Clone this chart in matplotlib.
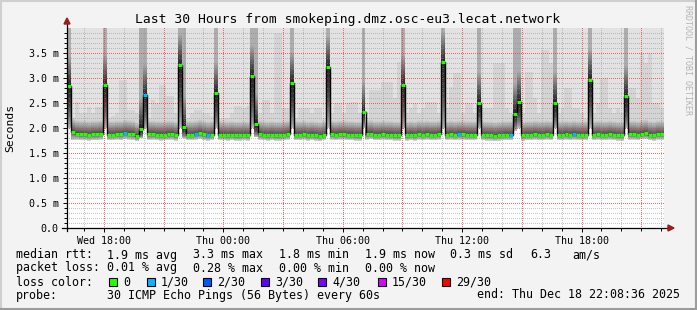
import numpy as np
import matplotlib
matplotlib.use("Agg")
import matplotlib.pyplot as plt
from matplotlib.patches import Rectangle, Polygon

# 12-minute steps over the last 30 hours, values in ms
median_ms = [
    2.84, 1.92, 1.89, 1.88, 1.88, 1.87, 1.88, 1.88, 1.89, 2.86,
    1.87, 1.87, 1.88, 1.88, 1.90, 1.89, 1.88, 1.84, 1.98, 2.66,
    1.88, 1.88, 1.87, 1.87, 1.87, 1.88, 1.88, 1.86, 3.26, 2.02,
    1.87, 1.87, 1.88, 1.90, 1.88, 1.86, 1.87, 2.70, 1.87, 1.87,
    1.86, 1.87, 1.86, 1.86, 1.87, 1.86, 3.04, 2.08, 1.88, 1.87,
    1.86, 1.87, 1.86, 1.86, 1.87, 1.88, 2.90, 1.87, 1.87, 1.88,
    1.86, 1.87, 1.86, 1.85, 1.87, 3.22, 1.88, 1.87, 1.88, 1.88,
    1.87, 1.87, 1.86, 1.86, 2.32, 1.88, 1.89, 1.87, 1.87, 1.88,
    1.87, 1.87, 1.86, 1.86, 2.86, 1.86, 1.87, 1.86, 1.88, 1.87,
    1.88, 1.87, 1.87, 1.88, 3.32, 1.87, 1.88, 1.87, 1.88, 1.88,
    1.87, 1.87, 1.87, 2.50, 1.87, 1.86, 1.86, 1.85, 1.86, 1.87,
    1.87, 1.87, 2.28, 2.52, 1.86, 1.87, 1.87, 1.88, 1.87, 1.87,
    1.88, 1.87, 2.50, 1.87, 1.87, 1.88, 1.87, 1.88, 1.87, 1.87,
    1.87, 2.96, 1.87, 1.88, 1.87, 1.87, 1.88, 1.87, 1.86, 1.86,
    2.64, 1.88, 1.88, 1.87, 1.89, 1.90, 1.87, 1.86, 1.88, 1.88,
]

# lowest ping of each step (bottom of the smoke)
smoke_lo = [
    2.00, 1.76, 1.77, 1.76, 1.76, 1.75, 1.76, 1.76, 1.77, 2.00,
    1.76, 1.76, 1.77, 1.76, 1.78, 1.77, 1.76, 1.74, 1.80, 2.00,
    1.76, 1.77, 1.76, 1.75, 1.76, 1.76, 1.77, 1.75, 2.00, 1.80,
    1.76, 1.76, 1.77, 1.78, 1.76, 1.75, 1.76, 2.00, 1.76, 1.76,
    1.75, 1.76, 1.75, 1.75, 1.76, 1.75, 2.00, 1.82, 1.77, 1.76,
    1.75, 1.76, 1.75, 1.75, 1.76, 1.77, 2.00, 1.76, 1.76, 1.77,
    1.75, 1.76, 1.75, 1.74, 1.76, 2.00, 1.77, 1.76, 1.77, 1.77,
    1.76, 1.76, 1.75, 1.75, 2.00, 1.77, 1.78, 1.76, 1.76, 1.77,
    1.76, 1.76, 1.75, 1.75, 2.00, 1.75, 1.76, 1.75, 1.77, 1.76,
    1.77, 1.76, 1.76, 1.77, 2.00, 1.76, 1.77, 1.76, 1.77, 1.77,
    1.76, 1.76, 1.76, 2.00, 1.76, 1.75, 1.75, 1.74, 1.75, 1.76,
    1.76, 1.76, 1.95, 2.00, 1.75, 1.76, 1.76, 1.77, 1.76, 1.76,
    1.77, 1.76, 2.00, 1.76, 1.76, 1.77, 1.76, 1.77, 1.76, 1.76,
    1.76, 2.00, 1.76, 1.77, 1.76, 1.76, 1.77, 1.76, 1.75, 1.75,
    2.00, 1.77, 1.77, 1.76, 1.78, 1.78, 1.76, 1.75, 1.77, 1.77,
]

# top of the second-outermost smoke band (the pale columns)
smoke_hi = [
    4.0, 2.20, 2.52, 2.30, 2.30, 2.42, 2.30, 2.42, 2.42, 4.0,
    2.20, 2.25, 2.30, 2.96, 2.96, 2.36, 2.36, 2.30, 4.0, 4.0,
    2.20, 2.56, 2.50, 2.86, 2.86, 2.64, 2.64, 2.30, 4.0, 4.0,
    2.20, 2.30, 2.36, 2.36, 2.30, 2.30, 2.25, 4.0, 2.20, 2.20,
    2.20, 2.30, 2.44, 2.44, 2.40, 2.44, 4.0, 4.0, 2.30, 2.56,
    2.56, 2.30, 3.90, 3.90, 2.40, 2.40, 4.0, 2.20, 2.40, 2.40,
    2.40, 2.30, 2.40, 2.40, 2.20, 4.0, 2.30, 2.50, 2.50, 2.30,
    2.50, 2.52, 2.52, 2.30, 4.0, 2.20, 2.76, 2.76, 2.76, 2.92,
    2.92, 2.92, 2.60, 3.32, 4.0, 2.30, 2.40, 2.50, 2.30, 2.40,
    2.52, 2.52, 2.52, 2.30, 4.0, 2.40, 2.82, 3.10, 3.10, 2.30,
    2.50, 2.50, 2.30, 4.0, 2.40, 2.40, 2.40, 3.30, 3.30, 3.30,
    2.40, 2.30, 4.0, 4.0, 2.30, 3.12, 3.12, 2.60, 2.30, 3.56,
    3.56, 3.30, 4.0, 2.30, 2.40, 2.80, 2.80, 2.40, 2.40, 2.30,
    2.20, 4.0, 2.30, 2.50, 3.00, 3.00, 2.40, 2.30, 2.40, 2.30,
    4.0, 2.80, 2.80, 2.60, 3.50, 3.30, 3.50, 2.50, 2.50, 2.40,
]

# lost pings per step (out of 30)
loss_steps = [14, 19, 32, 35, 98, 111, 127]

loss_labels = ["0", "1/30", "2/30", "3/30", "4/30", "15/30", "29/30"]
loss_colors = ["#26ff00", "#00b8ff", "#0059ff", "#5e00ff", "#7e00ff", "#dd00ff", "#ff0000"]

x_labels = ["Wed 18:00", "Thu 00:00", "Thu 06:00", "Thu 12:00", "Thu 18:00"]
first_label_h = 1.857   # Wed 18:00 relative to window start (Wed 16:08:36)

W, H = 697, 310
MONO = "DejaVu Sans Mono"

fig = plt.figure(figsize=(W / 100, H / 100), dpi=100)
fig.patch.set_facecolor("#f3f3f3")


def fx(px):
    return px / W


def fy(py):
    return 1 - py / H


AX_W, AX_H = 597, 200   # plot area in pixels
ax = fig.add_axes([fx(67), fy(228), AX_W / W, AX_H / H])

n = len(median_ms)
step_h = 0.2
edges = np.arange(n + 1) * step_h
tmax = edges[-1]
ymax = 4.0

# plot area rendered pixel by pixel: white, smoke, then dotted grid on top
col_t = (np.arange(AX_W) + 0.5) * tmax / AX_W
row_v = ymax - (np.arange(AX_H) + 0.5) * ymax / AX_H
col_step = np.minimum((col_t / step_h).astype(int), n - 1)

shade = np.ones((AX_H, n))
for i in range(n):
    m, lo, hi = median_ms[i], smoke_lo[i], smoke_hi[i]
    above = row_v >= m
    below = (row_v >= lo) & (row_v < m)
    frac = (m - row_v[below]) / (m - lo)
    if m >= 1.95:
        shade[above, i] = np.minimum(0.12 + 0.9 * (row_v[above] - m), 0.68)
        shade[below, i] = 0.18 + 0.55 * frac ** 2
    else:
        cap = np.where(row_v[above] < hi, 0.835, 0.89)
        shade[above, i] = np.minimum(0.28 + 2.0 * (row_v[above] - m), cap)
        shade[below, i] = 0.32 + 0.5 * frac

canvas = np.repeat(shade[:, col_step][:, :, None], 3, axis=2)

minor_rgb, minor_a = np.array([0.55, 0.55, 0.55]), 0.5
major_rgb, major_a = np.array([1.0, 0.2, 0.2]), 0.75


def dot(r, c, rgb, a):
    canvas[r, c] = canvas[r, c] * (1 - a) + rgb * a


for k in range(1, 40):
    row = AX_H - int(round(k * 0.1 / ymax * AX_H))
    if k % 5 == 0:
        dot(row, slice(0, None, 2), major_rgb, major_a)
    else:
        dot(row, slice(0, None, 2), minor_rgb, minor_a)
hour0 = first_label_h - 1.0
for k in range(30):
    xh = hour0 + k
    if xh >= tmax:
        break
    col = int(round(xh / tmax * AX_W))
    if (k - 1) % 3 == 0:
        dot(slice(0, None, 2), col, major_rgb, major_a)
    else:
        dot(slice(0, None, 2), col, minor_rgb, minor_a)

ax.imshow(canvas, extent=(0, tmax, 0, ymax), origin="upper", aspect="auto",
          interpolation="nearest", zorder=1)

# median line, coloured by loss
ax.stairs(median_ms, edges, color="black", lw=1.0, baseline=None, zorder=3)
seg_colors = [loss_colors[1] if i in loss_steps else loss_colors[0] for i in range(n)]
ax.hlines(median_ms, edges[:-1], edges[1:], colors=seg_colors, lw=2.2, zorder=4)

ax.set_xlim(0, tmax)
ax.set_ylim(0, ymax)
for s in ax.spines.values():
    s.set_visible(False)

yt = np.arange(0, 3.6, 0.5)
ax.set_yticks(yt)
ax.set_yticklabels(["0.0"] + ["%.1f m" % t for t in yt[1:]])
ax.set_yticks(np.arange(0, 4.0, 0.1), minor=True)
ax.set_xticks([first_label_h + 6 * k for k in range(len(x_labels))])
ax.set_xticklabels(x_labels)
ax.set_xticks([hour0 + k for k in range(30)], minor=True)
ax.tick_params(axis="both", which="both", direction="out", color="black", width=0.7)
ax.tick_params(axis="y", which="major", length=3, pad=3, labelsize=7.2)
ax.tick_params(axis="y", which="minor", length=2)
ax.tick_params(axis="x", which="major", length=3, pad=3, labelsize=7.2)
ax.tick_params(axis="x", which="minor", length=2)
for lab in ax.get_xticklabels() + ax.get_yticklabels():
    lab.set_fontfamily(MONO)

# axis lines with arrow heads
ax.plot([0, 0], [-0.015, 1.03], transform=ax.transAxes, color="black", lw=0.9,
        clip_on=False, zorder=5)
ax.plot([-0.008, 1.01], [0, 0], transform=ax.transAxes, color="black", lw=0.9,
        clip_on=False, zorder=5)
fig.patches.append(Polygon([(fx(64), fy(24)), (fx(70), fy(24)), (fx(67), fy(18))],
                           closed=True, color="#9b1c1c", transform=fig.transFigure))
fig.patches.append(Polygon([(fx(668), fy(225)), (fx(668), fy(231)), (fx(674), fy(228))],
                           closed=True, color="#9b1c1c", transform=fig.transFigure))

# titles
fig.text(fx(348), fy(19), "Last 30 Hours from smokeping.dmz.osc-eu3.lecat.network",
         ha="center", va="center", fontsize=9.35, family=MONO)
fig.text(fx(10), fy(128), "Seconds", rotation=90, ha="center", va="center",
         fontsize=8.2, family=MONO)
fig.text(fx(688), fy(60), "RRDTOOL / TOBI OETIKER", rotation=270, ha="center",
         va="center", fontsize=6, family=MONO, color="#b4b4b4")

# legend block
fs = 8.4
row_y = [255, 268, 282, 295]
rtt_items = [(16, "median rtt:"), (107, "1.9 ms avg"), (193, "3.3 ms max"),
             (279, "1.8 ms min"), (365, "1.9 ms now"), (450, "0.3 ms sd"),
             (530, "6.3"), (572, "am/s")]
loss_items = [(16, "packet loss:"), (107, "0.01 % avg"), (193, "0.28 % max"),
              (279, "0.00 % min"), (365, "0.00 % now")]
for xp, s in rtt_items:
    fig.text(fx(xp), fy(row_y[0]), s, ha="left", va="center", fontsize=fs, family=MONO)
for xp, s in loss_items:
    fig.text(fx(xp), fy(row_y[1]), s, ha="left", va="center", fontsize=fs, family=MONO)

fig.text(fx(16), fy(row_y[2]), "loss color:", ha="left", va="center", fontsize=fs, family=MONO)
box_x = [109, 147, 203, 261, 318, 378, 442]
for bx, lab, col in zip(box_x, loss_labels, loss_colors):
    fig.patches.append(Rectangle((fx(bx), fy(row_y[2] + 4)), 8 / W, 8 / H,
                                 facecolor=col, edgecolor="black", lw=0.8,
                                 transform=fig.transFigure))
    fig.text(fx(bx + 14), fy(row_y[2]), lab, ha="left", va="center", fontsize=fs, family=MONO)

fig.text(fx(16), fy(row_y[3]), "probe:", ha="left", va="center", fontsize=fs, family=MONO)
fig.text(fx(107), fy(row_y[3]), "30 ICMP Echo Pings (56 Bytes) every 60s",
         ha="left", va="center", fontsize=fs, family=MONO)
fig.text(fx(680), fy(row_y[3]), "end: Thu Dec 18 22:08:36 2025",
         ha="right", va="center", fontsize=fs, family=MONO)

# 3d frame around the image
fig.add_artist(plt.Line2D([0, 1], [fy(1), fy(1)], color="#cfcfcf", lw=1.5))
fig.add_artist(plt.Line2D([fx(1), fx(1)], [0, 1], color="#cfcfcf", lw=1.5))
fig.add_artist(plt.Line2D([0, 1], [fy(309), fy(309)], color="#9c9c9c", lw=1.5))
fig.add_artist(plt.Line2D([fx(696), fx(696)], [0, 1], color="#9c9c9c", lw=1.5))

fig.savefig("out.png", dpi=100, facecolor=fig.get_facecolor())
